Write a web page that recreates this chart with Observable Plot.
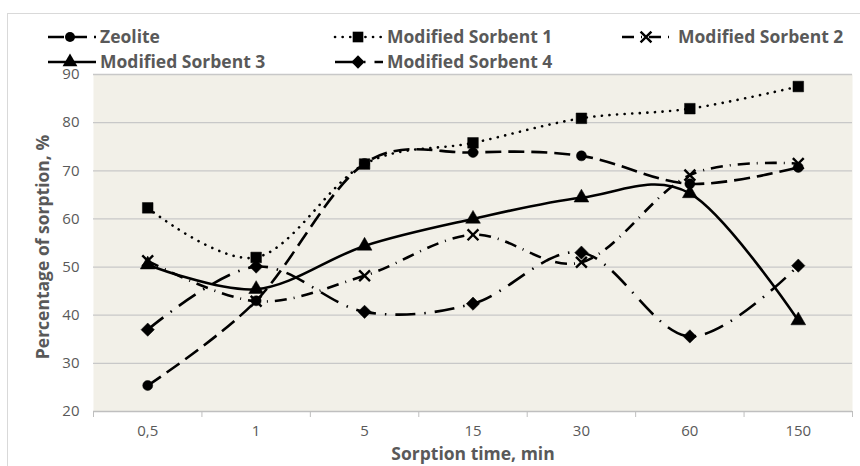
<!DOCTYPE html>
<html><head><meta charset="utf-8">
<script src="https://cdn.jsdelivr.net/npm/d3@7"></script>
<script src="https://cdn.jsdelivr.net/npm/@observablehq/plot@0.6"></script>
<style>body{margin:0;background:#fff} #chart{position:relative;width:860px;height:466px}</style>
</head><body><div id="chart"></div>
<script>
const categories = ["0,5", "1", "5", "15", "30", "60", "150"];
const zeolite  = [25.4, 43.0, 71.5, 73.8, 73.1, 67.3, 70.7];
const sorbent1 = [62.3, 52.0, 71.4, 75.8, 80.9, 82.9, 87.5];
const sorbent2 = [51.3, 42.9, 48.2, 56.7, 51.0, 69.1, 71.5];
const sorbent3 = [50.5, 45.4, 54.4, 60.0, 64.4, 65.3, 38.9];
const sorbent4 = [37.0, 50.1, 40.7, 42.4, 53.0, 35.6, 50.3];
const seriesNames = ["Zeolite", "Modified Sorbent 1", "Modified Sorbent 2", "Modified Sorbent 3", "Modified Sorbent 4"];
const yTicks = [20, 30, 40, 50, 60, 70, 80, 90];
const xTitle = "Sorption time, min";
const yTitle = "Percentage of sorption, %";

const values = [zeolite, sorbent1, sorbent2, sorbent3, sorbent4];
const styles = [
  {symbol: "circle",   r: 5,   dash: "16,7",        cap: "butt"},
  {symbol: "square",   r: 6,   dash: "0.1,7.5",     cap: "round"},
  {symbol: "times",    r: 5,   dash: "12,7,1,7",    cap: "butt"},
  {symbol: "triangle", r: 5.5, dash: null,          cap: "butt"},
  {symbol: "diamond2", r: 6,   dash: "20,9,1.5,9",  cap: "butt"}
];
const rows = [];
seriesNames.forEach((name, s) => values[s].forEach((v, i) => rows.push({series: name, s, i, v})));

const seriesMarks = [];
styles.forEach((st, s) => {
  const data = rows.filter(d => d.s === s);
  seriesMarks.push(Plot.line(data, {x: "i", y: "v", curve: "cardinal", tension: 0, stroke: "black",
    strokeWidth: 2.6, strokeDasharray: st.dash, strokeLinecap: st.cap}));
});
styles.forEach((st, s) => {
  const data = rows.filter(d => d.s === s);
  if (st.symbol === "times") {
    seriesMarks.push(Plot.dot(data, {x: "i", y: "v", symbol: "times", r: st.r, stroke: "black", strokeWidth: 2.4}));
  } else {
    seriesMarks.push(Plot.dot(data, {x: "i", y: "v", symbol: st.symbol, r: st.r, fill: "black", stroke: "black", strokeWidth: 0.5}));
  }
});

const FONT = "'Open Sans', sans-serif";
const plot = Plot.plot({
  width: 860, height: 466,
  marginLeft: 93, marginRight: 8, marginTop: 74, marginBottom: 55,
  style: {fontFamily: FONT, fontSize: "15px", color: "#595959", background: "transparent"},
  x: {type: "linear", domain: [-0.5, 6.5]},
  y: {domain: [20, 90]},
  marks: [
    Plot.frame({fill: "#f2f0e8", stroke: null}),
    Plot.gridY(yTicks.slice(1), {stroke: "#c8c8c8", strokeOpacity: 1, strokeWidth: 1.3}),
    Plot.ruleY([20], {stroke: "#bfbfbf", strokeWidth: 1.3}),
    Plot.axisY(yTicks, {tickSize: 0, tickPadding: 14, fill: "#595959", label: null}),
    Plot.axisX(d3.range(-0.5, 7, 1), {tickSize: 6, tickFormat: () => "", stroke: "#bfbfbf", label: null}),
    Plot.axisX(d3.range(7), {tickSize: 0, tickPadding: 14, tickFormat: i => categories[i], fill: "#595959", label: null}),
    ...seriesMarks,
    Plot.text([xTitle], {frameAnchor: "bottom", dy: 43, lineAnchor: "middle", textAnchor: "middle", fontWeight: "bold", fontSize: 17.5, fill: "#595959"}),
    Plot.text([yTitle], {frameAnchor: "left", dx: -50, dy: 4, rotate: -90, lineAnchor: "middle", textAnchor: "middle", fontWeight: "bold", fontSize: 17.5, fill: "#595959"})
  ]
});
document.getElementById("chart").appendChild(plot);

// chart border
const svg = d3.select(plot);
svg.insert("rect", ":first-child").attr("x", 7.5).attr("y", 13.5).attr("width", 870).attr("height", 470)
  .attr("fill", "white").attr("stroke", "#d9d9d9");

// legend
const legendPos = [
  {x: 48, y: 37, sx: 70, tx: 100},
  {x: 335, y: 37, sx: 358, tx: 387},
  {x: 622, y: 37, sx: 646, tx: 678},
  {x: 48, y: 62, sx: 70, tx: 100},
  {x: 335, y: 62, sx: 358, tx: 387}
];
const lg = svg.append("g").attr("font-family", FONT).attr("text-anchor", "start");
seriesNames.forEach((name, s) => {
  const p = legendPos[s], st = styles[s];
  lg.append("line").attr("x1", p.x).attr("x2", p.x + 48).attr("y1", p.y).attr("y2", p.y)
    .attr("stroke", "black").attr("stroke-width", 2.6)
    .attr("stroke-dasharray", st.dash).attr("stroke-linecap", st.cap);
  const symMap = {circle: d3.symbolCircle, square: d3.symbolSquare, times: d3.symbolTimes, triangle: d3.symbolTriangle, diamond2: d3.symbolDiamond2};
  const path = d3.symbol(symMap[st.symbol], st.r * st.r * Math.PI)();
  const sym = lg.append("path").attr("d", path).attr("transform", `translate(${p.sx},${p.y})`);
  if (st.symbol === "times") sym.attr("fill", "none").attr("stroke", "black").attr("stroke-width", 2.4);
  else sym.attr("fill", "black");
  lg.append("text").attr("x", p.tx).attr("y", p.y).attr("dy", "0.36em").attr("text-anchor", "start")
    .attr("font-size", 17.5).attr("font-weight", "bold").attr("fill", "#595959").text(name);
});
</script></body></html>
